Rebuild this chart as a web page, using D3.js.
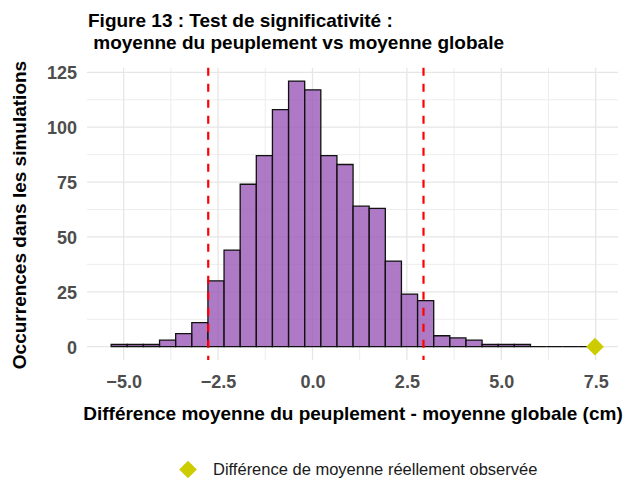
<!DOCTYPE html>
<html>
<head>
<meta charset="utf-8">
<script src="https://cdn.jsdelivr.net/npm/d3@7"></script>
<style>
  body { margin: 0; background: #fff; }
  text { font-family: "Liberation Sans", Arial, sans-serif; }
</style>
</head>
<body>
<svg width="629" height="480"></svg>
<script>
// données
var binStart = -5.33
var binWidth = 0.427
var counts = [1, 1, 1, 3, 6, 11, 30, 44, 74, 87, 108, 121, 117, 87, 83, 64, 63, 39, 24, 21, 5, 4, 3, 1, 1, 1, 0, 0, 0, 0]
var seuils = [-2.76, 2.94]        // quantiles 2.5% / 97.5%
var observe = 7.48                // différence réellement observée
var xTicks = [-5, -2.5, 0, 2.5, 5, 7.5]
var yTicks = [0, 25, 50, 75, 100, 125]

var svg = d3.select("svg")

var x = d3.scaleLinear().domain([-5.97, 8.09]).range([87, 618])
var y = d3.scaleLinear().domain([-6.05, 127.05]).range([360, 67.8])

var bins = counts.map(function (c, i) {
    return { x0: binStart + i * binWidth, x1: binStart + (i + 1) * binWidth, n: c }
})

// grille (theme_minimal)
var grid = svg.append("g")
var xMinor = d3.range(-6.25, 8.1, 2.5)
var yMinor = d3.range(12.5, 126, 25)
grid.selectAll(".xmin").data(xMinor.filter(function (d) { return x(d) > 87 })).enter().append("line")
    .attr("x1", d => x(d)).attr("x2", d => x(d)).attr("y1", 67.8).attr("y2", 360)
    .attr("stroke", "#ededed").attr("stroke-width", 1)
grid.selectAll(".ymin").data(yMinor).enter().append("line")
    .attr("x1", 87).attr("x2", 618).attr("y1", d => y(d)).attr("y2", d => y(d))
    .attr("stroke", "#ededed").attr("stroke-width", 1)
grid.selectAll(".xmaj").data(xTicks).enter().append("line")
    .attr("x1", d => x(d)).attr("x2", d => x(d)).attr("y1", 67.8).attr("y2", 360)
    .attr("stroke", "#e6e6e6").attr("stroke-width", 1.3)
grid.selectAll(".ymaj").data(yTicks).enter().append("line")
    .attr("x1", 87).attr("x2", 618).attr("y1", d => y(d)).attr("y2", d => y(d))
    .attr("stroke", "#e6e6e6").attr("stroke-width", 1.3)

// histogramme (les classes vides restent visibles comme une ligne)
svg.append("g").selectAll("path").data(bins).enter().append("path")
    .attr("d", function (d) {
        return "M" + x(d.x0) + "," + y(0) + "V" + y(d.n) + "H" + x(d.x1) + "V" + y(0) + "Z"
    })
    .attr("fill", "rgba(155,89,182,0.8)")
    .attr("stroke", "#111")
    .attr("stroke-width", 1.3)

// seuils
svg.append("g").selectAll("line").data(seuils).enter().append("line")
    .attr("x1", d => x(d)).attr("x2", d => x(d))
    .attr("y1", 67.8).attr("y2", 360)
    .attr("stroke", "#ff0000").attr("stroke-width", 2.2)
    .attr("stroke-dasharray", "8,8")

// valeur observée
var diamond = d3.symbol().type(d3.symbolDiamond2).size(200)
svg.append("path")
    .attr("d", diamond)
    .attr("transform", "translate(" + x(observe) + "," + y(0) + ")")
    .attr("fill", "#cccc00")

// axes
var xAxis = svg.append("g").attr("transform", "translate(0,375)")
    .call(d3.axisBottom(x).tickValues(xTicks).tickFormat(d3.format(".1f")).tickSize(0))
var yAxis = svg.append("g").attr("transform", "translate(77,0)")
    .call(d3.axisLeft(y).tickValues(yTicks).tickSize(0))
svg.selectAll(".domain").remove()
svg.selectAll(".tick text")
    .attr("font-family", "Liberation Sans, Arial, sans-serif")
    .attr("font-size", 18).attr("font-weight", "bold").attr("fill", "#4d4d4d")
yAxis.selectAll(".tick text").attr("x", 0).attr("dy", "0.36em")
xAxis.selectAll(".tick text").attr("y", 0).attr("dy", "0.71em")

// titres
svg.append("text").attr("x", 353).attr("y", 420).attr("text-anchor", "middle")
    .attr("font-size", 19).attr("font-weight", "bold").attr("fill", "#000")
    .text("Différence moyenne du peuplement - moyenne globale (cm)")
svg.append("text").attr("transform", "translate(25.5,215) rotate(-90)").attr("text-anchor", "middle")
    .attr("font-size", 19).attr("font-weight", "bold").attr("fill", "#000")
    .text("Occurrences dans les simulations")
svg.append("text").attr("x", 88).attr("y", 27)
    .attr("font-size", 19).attr("font-weight", "bold").attr("fill", "#000")
    .text("Figure 13 : Test de significativité :")
svg.append("text").attr("x", 88).attr("y", 49)
    .attr("font-size", 19).attr("font-weight", "bold").attr("fill", "#000")
    .text("\u00a0moyenne du peuplement vs moyenne globale")

// légende
svg.append("path")
    .attr("d", diamond)
    .attr("transform", "translate(188,469.5)")
    .attr("fill", "#cccc00")
svg.append("text").attr("x", 213).attr("y", 475)
    .attr("font-size", 16.5).attr("fill", "#1a1a1a")
    .text("Différence de moyenne réellement observée")
</script>
</body>
</html>
